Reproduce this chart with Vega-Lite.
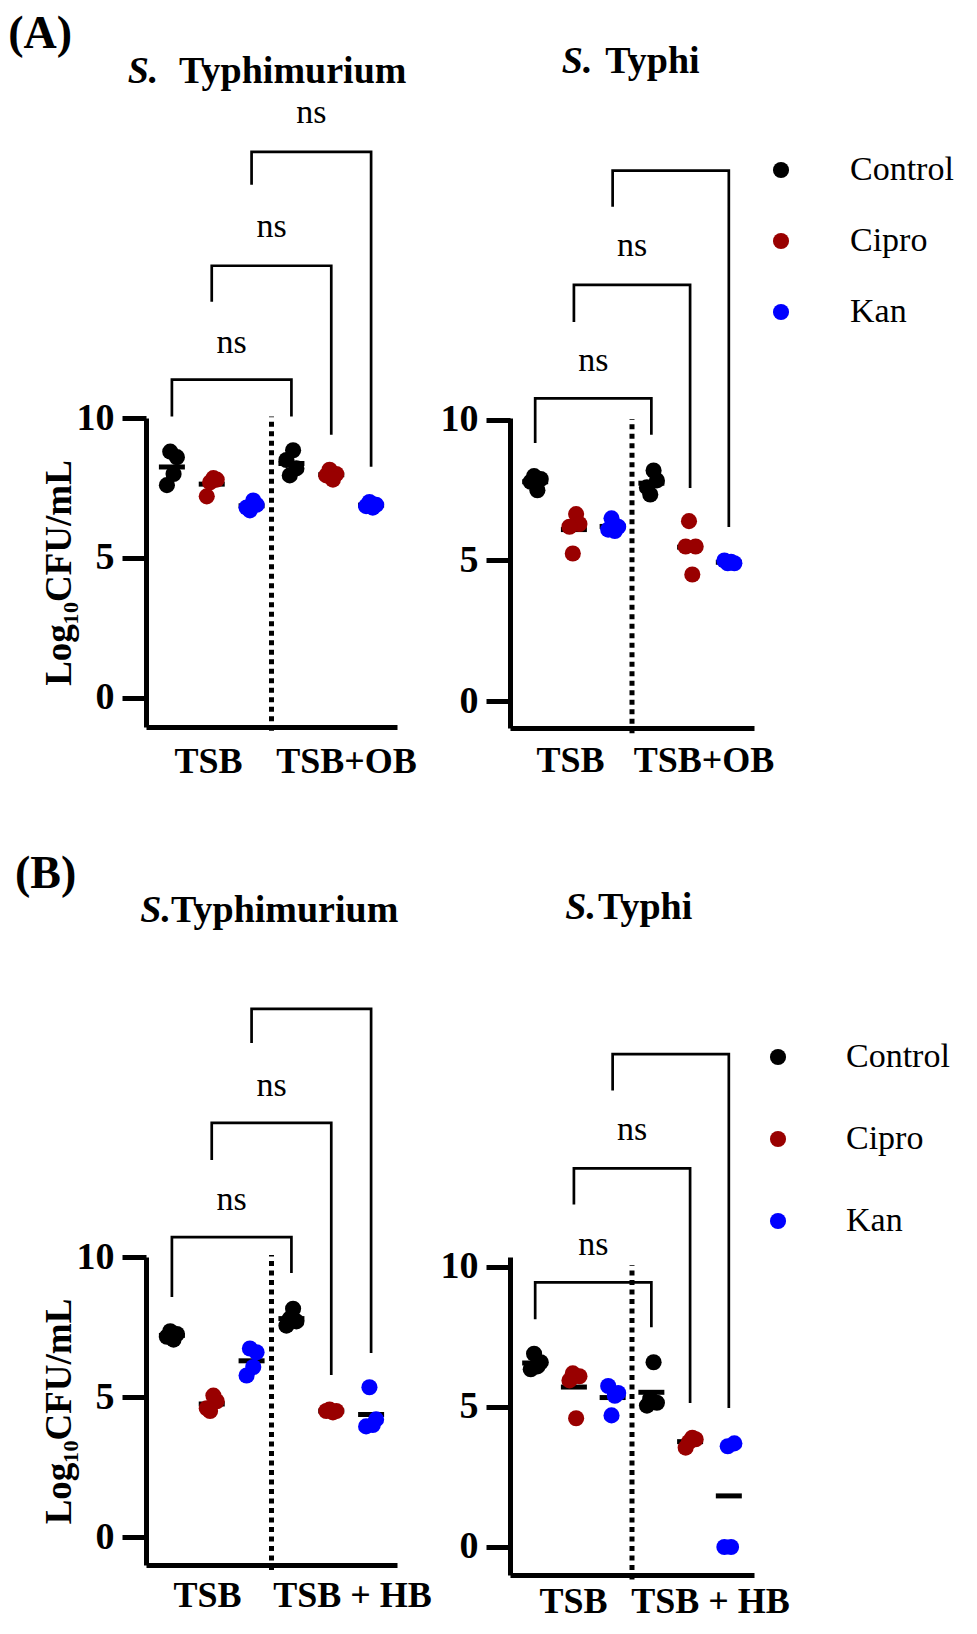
{
"$schema": "https://vega.github.io/schema/vega-lite/v6.json",
"background": "white",
"padding": {"left": 8, "top": 10, "right": 10, "bottom": 10},
"datasets": {
"cfu": [
{"p":"A1","treat":"Control","slot":"TSB-Control","rep":2,"log":8.8},{"p":"A1","treat":"Control","slot":"TSB-Control","rep":4,"log":8.6},{"p":"A1","treat":"Control","slot":"TSB-Control","rep":3,"log":8.0},{"p":"A1","treat":"Control","slot":"TSB-Control","rep":1,"log":7.6},
{"p":"A1","treat":"Cipro","slot":"TSB-Cipro","rep":3,"log":7.85},{"p":"A1","treat":"Cipro","slot":"TSB-Cipro","rep":4,"log":7.8},{"p":"A1","treat":"Cipro","slot":"TSB-Cipro","rep":2,"log":7.7},{"p":"A1","treat":"Cipro","slot":"TSB-Cipro","rep":1,"log":7.2},
{"p":"A1","treat":"Kan","slot":"TSB-Kan","rep":3,"log":7.05},{"p":"A1","treat":"Kan","slot":"TSB-Kan","rep":4,"log":6.9},{"p":"A1","treat":"Kan","slot":"TSB-Kan","rep":1,"log":6.8},{"p":"A1","treat":"Kan","slot":"TSB-Kan","rep":2,"log":6.7},
{"p":"A1","treat":"Control","slot":"OB-Control","rep":3,"log":8.85},{"p":"A1","treat":"Control","slot":"OB-Control","rep":1,"log":8.5},{"p":"A1","treat":"Control","slot":"OB-Control","rep":4,"log":8.2},{"p":"A1","treat":"Control","slot":"OB-Control","rep":2,"log":7.95},
{"p":"A1","treat":"Cipro","slot":"OB-Cipro","rep":2,"log":8.15},{"p":"A1","treat":"Cipro","slot":"OB-Cipro","rep":4,"log":8.0},{"p":"A1","treat":"Cipro","slot":"OB-Cipro","rep":1,"log":7.95},{"p":"A1","treat":"Cipro","slot":"OB-Cipro","rep":3,"log":7.8},
{"p":"A1","treat":"Kan","slot":"OB-Kan","rep":2,"log":7.0},{"p":"A1","treat":"Kan","slot":"OB-Kan","rep":4,"log":6.9},{"p":"A1","treat":"Kan","slot":"OB-Kan","rep":1,"log":6.85},{"p":"A1","treat":"Kan","slot":"OB-Kan","rep":3,"log":6.8},
{"p":"A2","treat":"Control","slot":"TSB-Control","rep":2,"log":8.0},{"p":"A2","treat":"Control","slot":"TSB-Control","rep":4,"log":7.9},{"p":"A2","treat":"Control","slot":"TSB-Control","rep":1,"log":7.8},{"p":"A2","treat":"Control","slot":"TSB-Control","rep":3,"log":7.5},
{"p":"A2","treat":"Cipro","slot":"TSB-Cipro","rep":3,"log":6.65},{"p":"A2","treat":"Cipro","slot":"TSB-Cipro","rep":4,"log":6.3},{"p":"A2","treat":"Cipro","slot":"TSB-Cipro","rep":1,"log":6.2},{"p":"A2","treat":"Cipro","slot":"TSB-Cipro","rep":2,"log":5.25},
{"p":"A2","treat":"Kan","slot":"TSB-Kan","rep":2,"log":6.5},{"p":"A2","treat":"Kan","slot":"TSB-Kan","rep":4,"log":6.2},{"p":"A2","treat":"Kan","slot":"TSB-Kan","rep":1,"log":6.1},{"p":"A2","treat":"Kan","slot":"TSB-Kan","rep":3,"log":6.05},
{"p":"A2","treat":"Control","slot":"OB-Control","rep":3,"log":8.2},{"p":"A2","treat":"Control","slot":"OB-Control","rep":4,"log":7.85},{"p":"A2","treat":"Control","slot":"OB-Control","rep":1,"log":7.6},{"p":"A2","treat":"Control","slot":"OB-Control","rep":2,"log":7.35},
{"p":"A2","treat":"Cipro","slot":"OB-Cipro","rep":2,"log":6.4},{"p":"A2","treat":"Cipro","slot":"OB-Cipro","rep":1,"log":5.5},{"p":"A2","treat":"Cipro","slot":"OB-Cipro","rep":4,"log":5.5},{"p":"A2","treat":"Cipro","slot":"OB-Cipro","rep":3,"log":4.5},
{"p":"A2","treat":"Kan","slot":"OB-Kan","rep":1,"log":5.0},{"p":"A2","treat":"Kan","slot":"OB-Kan","rep":3,"log":4.95},{"p":"A2","treat":"Kan","slot":"OB-Kan","rep":4,"log":4.9},{"p":"A2","treat":"Kan","slot":"OB-Kan","rep":2,"log":4.9},
{"p":"B1","treat":"Control","slot":"TSB-Control","rep":2,"log":7.35},{"p":"B1","treat":"Control","slot":"TSB-Control","rep":4,"log":7.25},{"p":"B1","treat":"Control","slot":"TSB-Control","rep":1,"log":7.15},{"p":"B1","treat":"Control","slot":"TSB-Control","rep":3,"log":7.05},
{"p":"B1","treat":"Cipro","slot":"TSB-Cipro","rep":3,"log":5.05},{"p":"B1","treat":"Cipro","slot":"TSB-Cipro","rep":4,"log":4.85},{"p":"B1","treat":"Cipro","slot":"TSB-Cipro","rep":1,"log":4.6},{"p":"B1","treat":"Cipro","slot":"TSB-Cipro","rep":2,"log":4.5},
{"p":"B1","treat":"Kan","slot":"TSB-Kan","rep":2,"log":6.73},{"p":"B1","treat":"Kan","slot":"TSB-Kan","rep":4,"log":6.6},{"p":"B1","treat":"Kan","slot":"TSB-Kan","rep":3,"log":6.07},{"p":"B1","treat":"Kan","slot":"TSB-Kan","rep":1,"log":5.77},
{"p":"B1","treat":"Control","slot":"HB-Control","rep":3,"log":8.15},{"p":"B1","treat":"Control","slot":"HB-Control","rep":2,"log":7.8},{"p":"B1","treat":"Control","slot":"HB-Control","rep":4,"log":7.7},{"p":"B1","treat":"Control","slot":"HB-Control","rep":1,"log":7.55},
{"p":"B1","treat":"Cipro","slot":"HB-Cipro","rep":2,"log":4.55},{"p":"B1","treat":"Cipro","slot":"HB-Cipro","rep":4,"log":4.5},{"p":"B1","treat":"Cipro","slot":"HB-Cipro","rep":1,"log":4.5},{"p":"B1","treat":"Cipro","slot":"HB-Cipro","rep":3,"log":4.45},
{"p":"B1","treat":"Kan","slot":"HB-Kan","rep":2,"log":5.35},{"p":"B1","treat":"Kan","slot":"HB-Kan","rep":4,"log":4.2},{"p":"B1","treat":"Kan","slot":"HB-Kan","rep":3,"log":4.0},{"p":"B1","treat":"Kan","slot":"HB-Kan","rep":1,"log":3.95},
{"p":"B2","treat":"Control","slot":"TSB-Control","rep":2,"log":6.9},{"p":"B2","treat":"Control","slot":"TSB-Control","rep":4,"log":6.6},{"p":"B2","treat":"Control","slot":"TSB-Control","rep":3,"log":6.45},{"p":"B2","treat":"Control","slot":"TSB-Control","rep":1,"log":6.35},
{"p":"B2","treat":"Cipro","slot":"TSB-Cipro","rep":2,"log":6.2},{"p":"B2","treat":"Cipro","slot":"TSB-Cipro","rep":4,"log":6.1},{"p":"B2","treat":"Cipro","slot":"TSB-Cipro","rep":1,"log":5.95},{"p":"B2","treat":"Cipro","slot":"TSB-Cipro","rep":3,"log":4.6},
{"p":"B2","treat":"Kan","slot":"TSB-Kan","rep":1,"log":5.75},{"p":"B2","treat":"Kan","slot":"TSB-Kan","rep":4,"log":5.5},{"p":"B2","treat":"Kan","slot":"TSB-Kan","rep":3,"log":5.4},{"p":"B2","treat":"Kan","slot":"TSB-Kan","rep":2,"log":4.7},
{"p":"B2","treat":"Control","slot":"HB-Control","rep":3,"log":6.6},{"p":"B2","treat":"Control","slot":"HB-Control","rep":2,"log":5.3},{"p":"B2","treat":"Control","slot":"HB-Control","rep":4,"log":5.15},{"p":"B2","treat":"Control","slot":"HB-Control","rep":1,"log":5.05},
{"p":"B2","treat":"Cipro","slot":"HB-Cipro","rep":3,"log":3.9},{"p":"B2","treat":"Cipro","slot":"HB-Cipro","rep":4,"log":3.85},{"p":"B2","treat":"Cipro","slot":"HB-Cipro","rep":2,"log":3.75},{"p":"B2","treat":"Cipro","slot":"HB-Cipro","rep":1,"log":3.55},
{"p":"B2","treat":"Kan","slot":"HB-Kan","rep":4,"log":3.7},{"p":"B2","treat":"Kan","slot":"HB-Kan","rep":2,"log":3.6},{"p":"B2","treat":"Kan","slot":"HB-Kan","rep":1,"log":0},{"p":"B2","treat":"Kan","slot":"HB-Kan","rep":3,"log":0}
],
"brackets": [
{"p":"A1","b":1,"o":1,"slot":"TSB-Control","v":10.05},{"p":"A1","b":1,"o":2,"slot":"TSB-Control","v":11.37},{"p":"A1","b":1,"o":3,"slot":"OB-Control","v":11.37},{"p":"A1","b":1,"o":4,"slot":"OB-Control","v":10.05},
{"p":"A1","b":2,"o":1,"slot":"TSB-Cipro","v":14.15},{"p":"A1","b":2,"o":2,"slot":"TSB-Cipro","v":15.44},{"p":"A1","b":2,"o":3,"slot":"OB-Cipro","v":15.44},{"p":"A1","b":2,"o":4,"slot":"OB-Cipro","v":9.4},
{"p":"A1","b":3,"o":1,"slot":"TSB-Kan","v":18.33},{"p":"A1","b":3,"o":2,"slot":"TSB-Kan","v":19.51},{"p":"A1","b":3,"o":3,"slot":"OB-Kan","v":19.51},{"p":"A1","b":3,"o":4,"slot":"OB-Kan","v":8.26},
{"p":"A2","b":1,"o":1,"slot":"TSB-Control","v":9.18},{"p":"A2","b":1,"o":2,"slot":"TSB-Control","v":10.77},{"p":"A2","b":1,"o":3,"slot":"OB-Control","v":10.77},{"p":"A2","b":1,"o":4,"slot":"OB-Control","v":9.47},
{"p":"A2","b":2,"o":1,"slot":"TSB-Cipro","v":13.49},{"p":"A2","b":2,"o":2,"slot":"TSB-Cipro","v":14.81},{"p":"A2","b":2,"o":3,"slot":"OB-Cipro","v":14.81},{"p":"A2","b":2,"o":4,"slot":"OB-Cipro","v":7.58},
{"p":"A2","b":3,"o":1,"slot":"TSB-Kan","v":17.59},{"p":"A2","b":3,"o":2,"slot":"TSB-Kan","v":18.87},{"p":"A2","b":3,"o":3,"slot":"OB-Kan","v":18.87},{"p":"A2","b":3,"o":4,"slot":"OB-Kan","v":6.19},
{"p":"B1","b":1,"o":1,"slot":"TSB-Control","v":8.57},{"p":"B1","b":1,"o":2,"slot":"TSB-Control","v":10.71},{"p":"B1","b":1,"o":3,"slot":"HB-Control","v":10.71},{"p":"B1","b":1,"o":4,"slot":"HB-Control","v":9.43},
{"p":"B1","b":2,"o":1,"slot":"TSB-Cipro","v":13.46},{"p":"B1","b":2,"o":2,"slot":"TSB-Cipro","v":14.79},{"p":"B1","b":2,"o":3,"slot":"HB-Cipro","v":14.79},{"p":"B1","b":2,"o":4,"slot":"HB-Cipro","v":5.79},
{"p":"B1","b":3,"o":1,"slot":"TSB-Kan","v":17.64},{"p":"B1","b":3,"o":2,"slot":"TSB-Kan","v":18.86},{"p":"B1","b":3,"o":3,"slot":"HB-Kan","v":18.86},{"p":"B1","b":3,"o":4,"slot":"HB-Kan","v":6.57},
{"p":"B2","b":1,"o":1,"slot":"TSB-Control","v":8.13},{"p":"B2","b":1,"o":2,"slot":"TSB-Control","v":9.45},{"p":"B2","b":1,"o":3,"slot":"HB-Control","v":9.45},{"p":"B2","b":1,"o":4,"slot":"HB-Control","v":7.85},
{"p":"B2","b":2,"o":1,"slot":"TSB-Cipro","v":12.23},{"p":"B2","b":2,"o":2,"slot":"TSB-Cipro","v":13.52},{"p":"B2","b":2,"o":3,"slot":"HB-Cipro","v":13.52},{"p":"B2","b":2,"o":4,"slot":"HB-Cipro","v":5.14},
{"p":"B2","b":3,"o":1,"slot":"TSB-Kan","v":16.3},{"p":"B2","b":3,"o":2,"slot":"TSB-Kan","v":17.6},{"p":"B2","b":3,"o":3,"slot":"HB-Kan","v":17.6},{"p":"B2","b":3,"o":4,"slot":"HB-Kan","v":4.96}
],
"ns": [
{"p":"A1","slot":"TSB-Kan","v":12.33,"label":"ns"},{"p":"A1","slot":"OB-Control","v":16.48,"label":"ns"},{"p":"A1","slot":"OB-Cipro","v":20.55,"label":"ns"},
{"p":"A2","slot":"TSB-Kan","v":11.74,"label":"ns"},{"p":"A2","slot":"OB-Control","v":15.84,"label":"ns"},
{"p":"B1","slot":"TSB-Kan","v":11.68,"label":"ns"},{"p":"B1","slot":"HB-Control","v":15.75,"label":"ns"},
{"p":"B2","slot":"TSB-Kan","v":10.42,"label":"ns"},{"p":"B2","slot":"HB-Control","v":14.52,"label":"ns"}
],
"notes": [
{"p":"A1","role":"tag","text":"(A)"},{"p":"B1","role":"tag","text":"(B)"},
{"p":"A1","role":"genus","text":"S."},{"p":"A1","role":"species","text":"Typhimurium"},
{"p":"A2","role":"genus","text":"S."},{"p":"A2","role":"species","text":"Typhi"},
{"p":"B1","role":"genus","text":"S."},{"p":"B1","role":"species","text":"Typhimurium"},
{"p":"B2","role":"genus","text":"S."},{"p":"B2","role":"species","text":"Typhi"},
{"p":"A1","role":"base","text":"TSB"},{"p":"A1","role":"supp","text":"TSB+OB"},
{"p":"A2","role":"base","text":"TSB"},{"p":"A2","role":"supp","text":"TSB+OB"},
{"p":"B1","role":"base","text":"TSB"},{"p":"B1","role":"supp","text":"TSB + HB"},
{"p":"B2","role":"base","text":"TSB"},{"p":"B2","role":"supp","text":"TSB + HB"}
]
},
"columns": 2,
"bounds": "flush",
"spacing": {"row": 529, "column": 113},
"resolve": {"scale": {"color": "independent"}},
"concat": [
{
"width": 251, "height": 309,
"layer": [
{"data": {"values": [{}]}, "mark": {"type": "rule", "strokeWidth": 5, "strokeDash": [5, 4.5], "color": "black"},
 "encoding": {"x": {"datum": "TSB-Kan", "type": "ordinal", "bandPosition": 1, "axis": {"labels": false, "ticks": false, "title": null}, "scale": {"type": "band", "domain": ["TSB-Control","TSB-Cipro","TSB-Kan","OB-Control","OB-Cipro","OB-Kan"], "paddingInner": 0, "paddingOuter": 0.15}},
  "y": {"datum": -1.17, "type": "quantitative", "axis": {"values": [0, 5, 10], "title": "Log₁₀CFU/mL", "labelFlush": false, "labelOverlap": false}, "scale": {"domain": [-1.04, 10], "nice": false, "zero": false}}, "y2": {"datum": 10.05}}},
{"data": {"name": "brackets"}, "transform": [{"filter": "datum.p === 'A1'"}],
 "mark": {"type": "line", "color": "black", "strokeWidth": 2.7, "strokeCap": "butt", "strokeJoin": "miter"},
 "encoding": {"x": {"field": "slot", "type": "ordinal", "bandPosition": 0.5, "axis": {"labels": false, "ticks": false, "title": null}, "scale": {"type": "band", "domain": ["TSB-Control","TSB-Cipro","TSB-Kan","OB-Control","OB-Cipro","OB-Kan"], "paddingInner": 0, "paddingOuter": 0.15}},
  "y": {"field": "v", "type": "quantitative", "axis": {"values": [0, 5, 10], "title": "Log₁₀CFU/mL", "labelFlush": false, "labelOverlap": false}, "scale": {"domain": [-1.04, 10], "nice": false, "zero": false}},
  "detail": {"field": "b", "type": "nominal"}, "order": {"field": "o", "type": "quantitative"}}},
{"data": {"name": "cfu"}, "transform": [{"filter": "datum.p === 'A1'"}],
 "mark": {"type": "tick", "color": "black", "thickness": 5, "size": 26},
 "encoding": {"x": {"field": "slot", "type": "ordinal", "axis": {"labels": false, "ticks": false, "title": null}, "scale": {"type": "band", "domain": ["TSB-Control","TSB-Cipro","TSB-Kan","OB-Control","OB-Cipro","OB-Kan"], "paddingInner": 0, "paddingOuter": 0.15}},
  "y": {"aggregate": "mean", "field": "log", "type": "quantitative", "axis": {"values": [0, 5, 10], "title": "Log₁₀CFU/mL", "labelFlush": false, "labelOverlap": false}, "scale": {"domain": [-1.04, 10], "nice": false, "zero": false}}}},
{"data": {"name": "cfu"}, "transform": [{"filter": "datum.p === 'A1'"}],
 "mark": {"type": "point", "filled": true, "size": 260, "opacity": 1},
 "encoding": {"x": {"field": "slot", "type": "ordinal", "axis": {"labels": false, "ticks": false, "title": null}, "scale": {"type": "band", "domain": ["TSB-Control","TSB-Cipro","TSB-Kan","OB-Control","OB-Cipro","OB-Kan"], "paddingInner": 0, "paddingOuter": 0.15}},
  "xOffset": {"field": "rep", "type": "quantitative", "scale": {"domain": [-3.5, 8.5], "zero": false, "nice": false}},
  "y": {"field": "log", "type": "quantitative", "axis": {"values": [0, 5, 10], "title": "Log₁₀CFU/mL", "labelFlush": false, "labelOverlap": false}, "scale": {"domain": [-1.04, 10], "nice": false, "zero": false}},
  "color": {"field": "treat", "type": "nominal", "scale": {"domain": ["Control", "Cipro", "Kan"], "range": ["#000000", "#990000", "#0000ff"]}, "legend": null}}},
{"data": {"name": "ns"}, "transform": [{"filter": "datum.p === 'A1'"}],
 "mark": {"type": "text", "font": "Liberation Serif", "fontSize": 34, "color": "black", "align": "center", "baseline": "alphabetic"},
 "encoding": {"x": {"field": "slot", "type": "ordinal", "bandPosition": 0, "axis": {"labels": false, "ticks": false, "title": null}, "scale": {"type": "band", "domain": ["TSB-Control","TSB-Cipro","TSB-Kan","OB-Control","OB-Cipro","OB-Kan"], "paddingInner": 0, "paddingOuter": 0.15}},
  "y": {"field": "v", "type": "quantitative", "axis": {"values": [0, 5, 10], "title": "Log₁₀CFU/mL", "labelFlush": false, "labelOverlap": false}, "scale": {"domain": [-1.04, 10], "nice": false, "zero": false}}, "text": {"field": "label"}}},
{"data": {"name": "notes"}, "transform": [{"filter": "datum.p === 'A1' && datum.role === 'tag'"}],
 "mark": {"type": "text", "font": "Liberation Serif", "fontSize": 46, "fontWeight": "bold", "color": "black", "align": "left", "baseline": "alphabetic"},
 "encoding": {"x": {"datum": "TSB-Control", "type": "ordinal", "bandPosition": -3.61, "axis": {"labels": false, "ticks": false, "title": null}}, "y": {"datum": 23.23, "type": "quantitative", "axis": {"values": [0, 5, 10], "title": "Log₁₀CFU/mL", "labelFlush": false, "labelOverlap": false}}, "text": {"field": "text"}}},
{"data": {"name": "notes"}, "transform": [{"filter": "datum.p === 'A1' && datum.role === 'genus'"}],
 "mark": {"type": "text", "font": "Liberation Serif", "fontSize": 38, "fontWeight": "bold", "fontStyle": "italic", "color": "black", "align": "right", "baseline": "alphabetic"},
 "encoding": {"x": {"datum": "TSB-Control", "type": "ordinal", "bandPosition": 0.16, "axis": {"labels": false, "ticks": false, "title": null}}, "y": {"datum": 21.98, "type": "quantitative", "axis": {"values": [0, 5, 10], "title": "Log₁₀CFU/mL", "labelFlush": false, "labelOverlap": false}}, "text": {"field": "text"}}},
{"data": {"name": "notes"}, "transform": [{"filter": "datum.p === 'A1' && datum.role === 'species'"}],
 "mark": {"type": "text", "font": "Liberation Serif", "fontSize": 38, "fontWeight": "bold", "color": "black", "align": "left", "baseline": "alphabetic"},
 "encoding": {"x": {"datum": "TSB-Control", "type": "ordinal", "bandPosition": 0.68, "axis": {"labels": false, "ticks": false, "title": null}}, "y": {"datum": 21.98, "type": "quantitative", "axis": {"values": [0, 5, 10], "title": "Log₁₀CFU/mL", "labelFlush": false, "labelOverlap": false}}, "text": {"field": "text"}}},
{"data": {"name": "notes"}, "transform": [{"filter": "datum.p === 'A1' && datum.role === 'base'"}],
 "mark": {"type": "text", "font": "Liberation Serif", "fontSize": 36, "fontWeight": "bold", "color": "black", "align": "center", "baseline": "alphabetic"},
 "encoding": {"x": {"datum": "TSB-Cipro", "type": "ordinal", "bandPosition": 0.419, "axis": {"labels": false, "ticks": false, "title": null}}, "y": {"datum": -2.67, "type": "quantitative", "axis": {"values": [0, 5, 10], "title": "Log₁₀CFU/mL", "labelFlush": false, "labelOverlap": false}}, "text": {"field": "text"}}},
{"data": {"name": "notes"}, "transform": [{"filter": "datum.p === 'A1' && datum.role === 'supp'"}],
 "mark": {"type": "text", "font": "Liberation Serif", "fontSize": 36, "fontWeight": "bold", "color": "black", "align": "center", "baseline": "alphabetic"},
 "encoding": {"x": {"datum": "OB-Cipro", "type": "ordinal", "bandPosition": 0.883, "axis": {"labels": false, "ticks": false, "title": null}}, "y": {"datum": -2.67, "type": "quantitative", "axis": {"values": [0, 5, 10], "title": "Log₁₀CFU/mL", "labelFlush": false, "labelOverlap": false}}, "text": {"field": "text"}}}
]
},
{
"width": 244, "height": 310,
"layer": [
{"data": {"values": [{}]}, "mark": {"type": "rule", "strokeWidth": 5, "strokeDash": [5, 4.5], "color": "black"},
 "encoding": {"x": {"datum": "TSB-Kan", "type": "ordinal", "bandPosition": 1, "axis": {"labels": false, "ticks": false, "title": null}, "scale": {"type": "band", "domain": ["TSB-Control","TSB-Cipro","TSB-Kan","OB-Control","OB-Cipro","OB-Kan"], "paddingInner": 0, "paddingOuter": 0.15}},
  "y": {"datum": -1.15, "type": "quantitative", "axis": {"values": [0, 5, 10], "title": null, "labelFlush": false, "labelOverlap": false}, "scale": {"domain": [-0.96, 10.07], "nice": false, "zero": false}}, "y2": {"datum": 10.03}}},
{"data": {"name": "brackets"}, "transform": [{"filter": "datum.p === 'A2'"}],
 "mark": {"type": "line", "color": "black", "strokeWidth": 2.7, "strokeCap": "butt", "strokeJoin": "miter"},
 "encoding": {"x": {"field": "slot", "type": "ordinal", "bandPosition": 0.5, "axis": {"labels": false, "ticks": false, "title": null}, "scale": {"type": "band", "domain": ["TSB-Control","TSB-Cipro","TSB-Kan","OB-Control","OB-Cipro","OB-Kan"], "paddingInner": 0, "paddingOuter": 0.15}},
  "y": {"field": "v", "type": "quantitative", "axis": {"values": [0, 5, 10], "title": null, "labelFlush": false, "labelOverlap": false}, "scale": {"domain": [-0.96, 10.07], "nice": false, "zero": false}},
  "detail": {"field": "b", "type": "nominal"}, "order": {"field": "o", "type": "quantitative"}}},
{"data": {"name": "cfu"}, "transform": [{"filter": "datum.p === 'A2'"}],
 "mark": {"type": "tick", "color": "black", "thickness": 5, "size": 26},
 "encoding": {"x": {"field": "slot", "type": "ordinal", "axis": {"labels": false, "ticks": false, "title": null}, "scale": {"type": "band", "domain": ["TSB-Control","TSB-Cipro","TSB-Kan","OB-Control","OB-Cipro","OB-Kan"], "paddingInner": 0, "paddingOuter": 0.15}},
  "y": {"aggregate": "mean", "field": "log", "type": "quantitative", "axis": {"values": [0, 5, 10], "title": null, "labelFlush": false, "labelOverlap": false}, "scale": {"domain": [-0.96, 10.07], "nice": false, "zero": false}}}},
{"data": {"name": "cfu"}, "transform": [{"filter": "datum.p === 'A2'"}],
 "mark": {"type": "point", "filled": true, "size": 260, "opacity": 1},
 "encoding": {"x": {"field": "slot", "type": "ordinal", "axis": {"labels": false, "ticks": false, "title": null}, "scale": {"type": "band", "domain": ["TSB-Control","TSB-Cipro","TSB-Kan","OB-Control","OB-Cipro","OB-Kan"], "paddingInner": 0, "paddingOuter": 0.15}},
  "xOffset": {"field": "rep", "type": "quantitative", "scale": {"domain": [-3.5, 8.5], "zero": false, "nice": false}},
  "y": {"field": "log", "type": "quantitative", "axis": {"values": [0, 5, 10], "title": null, "labelFlush": false, "labelOverlap": false}, "scale": {"domain": [-0.96, 10.07], "nice": false, "zero": false}},
  "color": {"field": "treat", "type": "nominal", "scale": {"domain": ["Control", "Cipro", "Kan"], "range": ["#000000", "#990000", "#0000ff"]},
   "legend": {"orient": "none", "legendX": 254, "legendY": -265, "title": null, "symbolType": "circle", "symbolSize": 260, "symbolStrokeWidth": 0, "labelFont": "Liberation Serif", "labelFontSize": 34, "labelColor": "black", "labelOffset": 52, "rowPadding": 37, "padding": 0, "labelLimit": 300}}}},
{"data": {"name": "ns"}, "transform": [{"filter": "datum.p === 'A2'"}],
 "mark": {"type": "text", "font": "Liberation Serif", "fontSize": 34, "color": "black", "align": "center", "baseline": "alphabetic"},
 "encoding": {"x": {"field": "slot", "type": "ordinal", "bandPosition": 0, "axis": {"labels": false, "ticks": false, "title": null}, "scale": {"type": "band", "domain": ["TSB-Control","TSB-Cipro","TSB-Kan","OB-Control","OB-Cipro","OB-Kan"], "paddingInner": 0, "paddingOuter": 0.15}},
  "y": {"field": "v", "type": "quantitative", "axis": {"values": [0, 5, 10], "title": null, "labelFlush": false, "labelOverlap": false}, "scale": {"domain": [-0.96, 10.07], "nice": false, "zero": false}}, "text": {"field": "label"}}},
{"data": {"name": "notes"}, "transform": [{"filter": "datum.p === 'A2' && datum.role === 'genus'"}],
 "mark": {"type": "text", "font": "Liberation Serif", "fontSize": 38, "fontWeight": "bold", "fontStyle": "italic", "color": "black", "align": "right", "baseline": "alphabetic"},
 "encoding": {"x": {"datum": "TSB-Cipro", "type": "ordinal", "bandPosition": 0.98, "axis": {"labels": false, "ticks": false, "title": null}}, "y": {"datum": 22.36, "type": "quantitative", "axis": {"values": [0, 5, 10], "title": null, "labelFlush": false, "labelOverlap": false}}, "text": {"field": "text"}}},
{"data": {"name": "notes"}, "transform": [{"filter": "datum.p === 'A2' && datum.role === 'species'"}],
 "mark": {"type": "text", "font": "Liberation Serif", "fontSize": 38, "fontWeight": "bold", "color": "black", "align": "left", "baseline": "alphabetic"},
 "encoding": {"x": {"datum": "TSB-Kan", "type": "ordinal", "bandPosition": 0.31, "axis": {"labels": false, "ticks": false, "title": null}}, "y": {"datum": 22.36, "type": "quantitative", "axis": {"values": [0, 5, 10], "title": null, "labelFlush": false, "labelOverlap": false}}, "text": {"field": "text"}}},
{"data": {"name": "notes"}, "transform": [{"filter": "datum.p === 'A2' && datum.role === 'base'"}],
 "mark": {"type": "text", "font": "Liberation Serif", "fontSize": 36, "fontWeight": "bold", "color": "black", "align": "center", "baseline": "alphabetic"},
 "encoding": {"x": {"datum": "TSB-Cipro", "type": "ordinal", "bandPosition": 0.412, "axis": {"labels": false, "ticks": false, "title": null}}, "y": {"datum": -2.54, "type": "quantitative", "axis": {"values": [0, 5, 10], "title": null, "labelFlush": false, "labelOverlap": false}}, "text": {"field": "text"}}},
{"data": {"name": "notes"}, "transform": [{"filter": "datum.p === 'A2' && datum.role === 'supp'"}],
 "mark": {"type": "text", "font": "Liberation Serif", "fontSize": 36, "fontWeight": "bold", "color": "black", "align": "center", "baseline": "alphabetic"},
 "encoding": {"x": {"datum": "OB-Cipro", "type": "ordinal", "bandPosition": 0.859, "axis": {"labels": false, "ticks": false, "title": null}}, "y": {"datum": -2.54, "type": "quantitative", "axis": {"values": [0, 5, 10], "title": null, "labelFlush": false, "labelOverlap": false}}, "text": {"field": "text"}}}
]
},
{
"width": 251, "height": 308,
"layer": [
{"data": {"values": [{}]}, "mark": {"type": "rule", "strokeWidth": 5, "strokeDash": [5, 4.5], "color": "black"},
 "encoding": {"x": {"datum": "TSB-Kan", "type": "ordinal", "bandPosition": 1, "axis": {"labels": false, "ticks": false, "title": null}, "scale": {"type": "band", "domain": ["TSB-Control","TSB-Cipro","TSB-Kan","HB-Control","HB-Cipro","HB-Kan"], "paddingInner": 0, "paddingOuter": 0.15}},
  "y": {"datum": -1.18, "type": "quantitative", "axis": {"values": [0, 5, 10], "title": "Log₁₀CFU/mL", "labelFlush": false, "labelOverlap": false}, "scale": {"domain": [-1.0, 10], "nice": false, "zero": false}}, "y2": {"datum": 10.07}}},
{"data": {"name": "brackets"}, "transform": [{"filter": "datum.p === 'B1'"}],
 "mark": {"type": "line", "color": "black", "strokeWidth": 2.7, "strokeCap": "butt", "strokeJoin": "miter"},
 "encoding": {"x": {"field": "slot", "type": "ordinal", "bandPosition": 0.5, "axis": {"labels": false, "ticks": false, "title": null}, "scale": {"type": "band", "domain": ["TSB-Control","TSB-Cipro","TSB-Kan","HB-Control","HB-Cipro","HB-Kan"], "paddingInner": 0, "paddingOuter": 0.15}},
  "y": {"field": "v", "type": "quantitative", "axis": {"values": [0, 5, 10], "title": "Log₁₀CFU/mL", "labelFlush": false, "labelOverlap": false}, "scale": {"domain": [-1.0, 10], "nice": false, "zero": false}},
  "detail": {"field": "b", "type": "nominal"}, "order": {"field": "o", "type": "quantitative"}}},
{"data": {"name": "cfu"}, "transform": [{"filter": "datum.p === 'B1'"}],
 "mark": {"type": "tick", "color": "black", "thickness": 5, "size": 26},
 "encoding": {"x": {"field": "slot", "type": "ordinal", "axis": {"labels": false, "ticks": false, "title": null}, "scale": {"type": "band", "domain": ["TSB-Control","TSB-Cipro","TSB-Kan","HB-Control","HB-Cipro","HB-Kan"], "paddingInner": 0, "paddingOuter": 0.15}},
  "y": {"aggregate": "mean", "field": "log", "type": "quantitative", "axis": {"values": [0, 5, 10], "title": "Log₁₀CFU/mL", "labelFlush": false, "labelOverlap": false}, "scale": {"domain": [-1.0, 10], "nice": false, "zero": false}}}},
{"data": {"name": "cfu"}, "transform": [{"filter": "datum.p === 'B1'"}],
 "mark": {"type": "point", "filled": true, "size": 260, "opacity": 1},
 "encoding": {"x": {"field": "slot", "type": "ordinal", "axis": {"labels": false, "ticks": false, "title": null}, "scale": {"type": "band", "domain": ["TSB-Control","TSB-Cipro","TSB-Kan","HB-Control","HB-Cipro","HB-Kan"], "paddingInner": 0, "paddingOuter": 0.15}},
  "xOffset": {"field": "rep", "type": "quantitative", "scale": {"domain": [-3.5, 8.5], "zero": false, "nice": false}},
  "y": {"field": "log", "type": "quantitative", "axis": {"values": [0, 5, 10], "title": "Log₁₀CFU/mL", "labelFlush": false, "labelOverlap": false}, "scale": {"domain": [-1.0, 10], "nice": false, "zero": false}},
  "color": {"field": "treat", "type": "nominal", "scale": {"domain": ["Control", "Cipro", "Kan"], "range": ["#000000", "#990000", "#0000ff"]}, "legend": null}}},
{"data": {"name": "ns"}, "transform": [{"filter": "datum.p === 'B1'"}],
 "mark": {"type": "text", "font": "Liberation Serif", "fontSize": 34, "color": "black", "align": "center", "baseline": "alphabetic"},
 "encoding": {"x": {"field": "slot", "type": "ordinal", "bandPosition": 0, "axis": {"labels": false, "ticks": false, "title": null}, "scale": {"type": "band", "domain": ["TSB-Control","TSB-Cipro","TSB-Kan","HB-Control","HB-Cipro","HB-Kan"], "paddingInner": 0, "paddingOuter": 0.15}},
  "y": {"field": "v", "type": "quantitative", "axis": {"values": [0, 5, 10], "title": "Log₁₀CFU/mL", "labelFlush": false, "labelOverlap": false}, "scale": {"domain": [-1.0, 10], "nice": false, "zero": false}}, "text": {"field": "label"}}},
{"data": {"name": "notes"}, "transform": [{"filter": "datum.p === 'B1' && datum.role === 'tag'"}],
 "mark": {"type": "text", "font": "Liberation Serif", "fontSize": 46, "fontWeight": "bold", "color": "black", "align": "left", "baseline": "alphabetic"},
 "encoding": {"x": {"datum": "TSB-Control", "type": "ordinal", "bandPosition": -3.44, "axis": {"labels": false, "ticks": false, "title": null}}, "y": {"datum": 23.18, "type": "quantitative", "axis": {"values": [0, 5, 10], "title": "Log₁₀CFU/mL", "labelFlush": false, "labelOverlap": false}}, "text": {"field": "text"}}},
{"data": {"name": "notes"}, "transform": [{"filter": "datum.p === 'B1' && datum.role === 'genus'"}],
 "mark": {"type": "text", "font": "Liberation Serif", "fontSize": 38, "fontWeight": "bold", "fontStyle": "italic", "color": "black", "align": "right", "baseline": "alphabetic"},
 "encoding": {"x": {"datum": "TSB-Control", "type": "ordinal", "bandPosition": 0.477, "axis": {"labels": false, "ticks": false, "title": null}}, "y": {"datum": 21.96, "type": "quantitative", "axis": {"values": [0, 5, 10], "title": "Log₁₀CFU/mL", "labelFlush": false, "labelOverlap": false}}, "text": {"field": "text"}}},
{"data": {"name": "notes"}, "transform": [{"filter": "datum.p === 'B1' && datum.role === 'species'"}],
 "mark": {"type": "text", "font": "Liberation Serif", "fontSize": 38, "fontWeight": "bold", "color": "black", "align": "left", "baseline": "alphabetic"},
 "encoding": {"x": {"datum": "TSB-Control", "type": "ordinal", "bandPosition": 0.477, "axis": {"labels": false, "ticks": false, "title": null}}, "y": {"datum": 21.96, "type": "quantitative", "axis": {"values": [0, 5, 10], "title": "Log₁₀CFU/mL", "labelFlush": false, "labelOverlap": false}}, "text": {"field": "text"}}},
{"data": {"name": "notes"}, "transform": [{"filter": "datum.p === 'B1' && datum.role === 'base'"}],
 "mark": {"type": "text", "font": "Liberation Serif", "fontSize": 36, "fontWeight": "bold", "color": "black", "align": "center", "baseline": "alphabetic"},
 "encoding": {"x": {"datum": "TSB-Cipro", "type": "ordinal", "bandPosition": 0.394, "axis": {"labels": false, "ticks": false, "title": null}}, "y": {"datum": -2.5, "type": "quantitative", "axis": {"values": [0, 5, 10], "title": "Log₁₀CFU/mL", "labelFlush": false, "labelOverlap": false}}, "text": {"field": "text"}}},
{"data": {"name": "notes"}, "transform": [{"filter": "datum.p === 'B1' && datum.role === 'supp'"}],
 "mark": {"type": "text", "font": "Liberation Serif", "fontSize": 36, "fontWeight": "bold", "color": "black", "align": "center", "baseline": "alphabetic"},
 "encoding": {"x": {"datum": "HB-Kan", "type": "ordinal", "bandPosition": 0.033, "axis": {"labels": false, "ticks": false, "title": null}}, "y": {"datum": -2.5, "type": "quantitative", "axis": {"values": [0, 5, 10], "title": "Log₁₀CFU/mL", "labelFlush": false, "labelOverlap": false}}, "text": {"field": "text"}}}
]
},
{
"width": 244, "height": 318,
"layer": [
{"data": {"values": [{}]}, "mark": {"type": "rule", "strokeWidth": 5, "strokeDash": [5, 4.5], "color": "black"},
 "encoding": {"x": {"datum": "TSB-Kan", "type": "ordinal", "bandPosition": 1, "axis": {"labels": false, "ticks": false, "title": null}, "scale": {"type": "band", "domain": ["TSB-Control","TSB-Cipro","TSB-Kan","HB-Control","HB-Cipro","HB-Kan"], "paddingInner": 0, "paddingOuter": 0.15}},
  "y": {"datum": -1.16, "type": "quantitative", "axis": {"values": [0, 5, 10], "title": null, "labelFlush": false, "labelOverlap": false}, "scale": {"domain": [-1.0, 10.357], "nice": false, "zero": false}}, "y2": {"datum": 10.06}}},
{"data": {"name": "brackets"}, "transform": [{"filter": "datum.p === 'B2'"}],
 "mark": {"type": "line", "color": "black", "strokeWidth": 2.7, "strokeCap": "butt", "strokeJoin": "miter"},
 "encoding": {"x": {"field": "slot", "type": "ordinal", "bandPosition": 0.5, "axis": {"labels": false, "ticks": false, "title": null}, "scale": {"type": "band", "domain": ["TSB-Control","TSB-Cipro","TSB-Kan","HB-Control","HB-Cipro","HB-Kan"], "paddingInner": 0, "paddingOuter": 0.15}},
  "y": {"field": "v", "type": "quantitative", "axis": {"values": [0, 5, 10], "title": null, "labelFlush": false, "labelOverlap": false}, "scale": {"domain": [-1.0, 10.357], "nice": false, "zero": false}},
  "detail": {"field": "b", "type": "nominal"}, "order": {"field": "o", "type": "quantitative"}}},
{"data": {"name": "cfu"}, "transform": [{"filter": "datum.p === 'B2'"}],
 "mark": {"type": "tick", "color": "black", "thickness": 5, "size": 26},
 "encoding": {"x": {"field": "slot", "type": "ordinal", "axis": {"labels": false, "ticks": false, "title": null}, "scale": {"type": "band", "domain": ["TSB-Control","TSB-Cipro","TSB-Kan","HB-Control","HB-Cipro","HB-Kan"], "paddingInner": 0, "paddingOuter": 0.15}},
  "y": {"aggregate": "mean", "field": "log", "type": "quantitative", "axis": {"values": [0, 5, 10], "title": null, "labelFlush": false, "labelOverlap": false}, "scale": {"domain": [-1.0, 10.357], "nice": false, "zero": false}}}},
{"data": {"name": "cfu"}, "transform": [{"filter": "datum.p === 'B2'"}],
 "mark": {"type": "point", "filled": true, "size": 260, "opacity": 1},
 "encoding": {"x": {"field": "slot", "type": "ordinal", "axis": {"labels": false, "ticks": false, "title": null}, "scale": {"type": "band", "domain": ["TSB-Control","TSB-Cipro","TSB-Kan","HB-Control","HB-Cipro","HB-Kan"], "paddingInner": 0, "paddingOuter": 0.15}},
  "xOffset": {"field": "rep", "type": "quantitative", "scale": {"domain": [-3.5, 8.5], "zero": false, "nice": false}},
  "y": {"field": "log", "type": "quantitative", "axis": {"values": [0, 5, 10], "title": null, "labelFlush": false, "labelOverlap": false}, "scale": {"domain": [-1.0, 10.357], "nice": false, "zero": false}},
  "color": {"field": "treat", "type": "nominal", "scale": {"domain": ["Control", "Cipro", "Kan"], "range": ["#000000", "#990000", "#0000ff"]},
   "legend": {"orient": "none", "legendX": 251, "legendY": -217, "title": null, "symbolType": "circle", "symbolSize": 260, "symbolStrokeWidth": 0, "labelFont": "Liberation Serif", "labelFontSize": 34, "labelColor": "black", "labelOffset": 51, "rowPadding": 48, "padding": 0, "labelLimit": 300}}}},
{"data": {"name": "ns"}, "transform": [{"filter": "datum.p === 'B2'"}],
 "mark": {"type": "text", "font": "Liberation Serif", "fontSize": 34, "color": "black", "align": "center", "baseline": "alphabetic"},
 "encoding": {"x": {"field": "slot", "type": "ordinal", "bandPosition": 0, "axis": {"labels": false, "ticks": false, "title": null}, "scale": {"type": "band", "domain": ["TSB-Control","TSB-Cipro","TSB-Kan","HB-Control","HB-Cipro","HB-Kan"], "paddingInner": 0, "paddingOuter": 0.15}},
  "y": {"field": "v", "type": "quantitative", "axis": {"values": [0, 5, 10], "title": null, "labelFlush": false, "labelOverlap": false}, "scale": {"domain": [-1.0, 10.357], "nice": false, "zero": false}}, "text": {"field": "label"}}},
{"data": {"name": "notes"}, "transform": [{"filter": "datum.p === 'B2' && datum.role === 'genus'"}],
 "mark": {"type": "text", "font": "Liberation Serif", "fontSize": 38, "fontWeight": "bold", "fontStyle": "italic", "color": "black", "align": "right", "baseline": "alphabetic"},
 "encoding": {"x": {"datum": "TSB-Kan", "type": "ordinal", "bandPosition": 0.07, "axis": {"labels": false, "ticks": false, "title": null}}, "y": {"datum": 22.43, "type": "quantitative", "axis": {"values": [0, 5, 10], "title": null, "labelFlush": false, "labelOverlap": false}}, "text": {"field": "text"}}},
{"data": {"name": "notes"}, "transform": [{"filter": "datum.p === 'B2' && datum.role === 'species'"}],
 "mark": {"type": "text", "font": "Liberation Serif", "fontSize": 38, "fontWeight": "bold", "color": "black", "align": "left", "baseline": "alphabetic"},
 "encoding": {"x": {"datum": "TSB-Kan", "type": "ordinal", "bandPosition": 0.12, "axis": {"labels": false, "ticks": false, "title": null}}, "y": {"datum": 22.43, "type": "quantitative", "axis": {"values": [0, 5, 10], "title": null, "labelFlush": false, "labelOverlap": false}}, "text": {"field": "text"}}},
{"data": {"name": "notes"}, "transform": [{"filter": "datum.p === 'B2' && datum.role === 'base'"}],
 "mark": {"type": "text", "font": "Liberation Serif", "fontSize": 36, "fontWeight": "bold", "color": "black", "align": "center", "baseline": "alphabetic"},
 "encoding": {"x": {"datum": "TSB-Cipro", "type": "ordinal", "bandPosition": 0.49, "axis": {"labels": false, "ticks": false, "title": null}}, "y": {"datum": -2.34, "type": "quantitative", "axis": {"values": [0, 5, 10], "title": null, "labelFlush": false, "labelOverlap": false}}, "text": {"field": "text"}}},
{"data": {"name": "notes"}, "transform": [{"filter": "datum.p === 'B2' && datum.role === 'supp'"}],
 "mark": {"type": "text", "font": "Liberation Serif", "fontSize": 36, "fontWeight": "bold", "color": "black", "align": "center", "baseline": "alphabetic"},
 "encoding": {"x": {"datum": "HB-Kan", "type": "ordinal", "bandPosition": 0.027, "axis": {"labels": false, "ticks": false, "title": null}}, "y": {"datum": -2.34, "type": "quantitative", "axis": {"values": [0, 5, 10], "title": null, "labelFlush": false, "labelOverlap": false}}, "text": {"field": "text"}}}
]
}
],
"config": {
"view": {"stroke": null},
"font": "Liberation Serif",
"axis": {"grid": false, "domainColor": "black", "domainWidth": 5, "tickColor": "black", "tickWidth": 5, "tickSize": 24, "labelFont": "Liberation Serif", "labelFontWeight": "bold", "labelFontSize": 38, "labelColor": "black", "labelPadding": 8, "titleFont": "Liberation Serif", "titleFontWeight": "bold", "titleFontSize": 37, "titleColor": "black", "titlePadding": -2}
}
}
